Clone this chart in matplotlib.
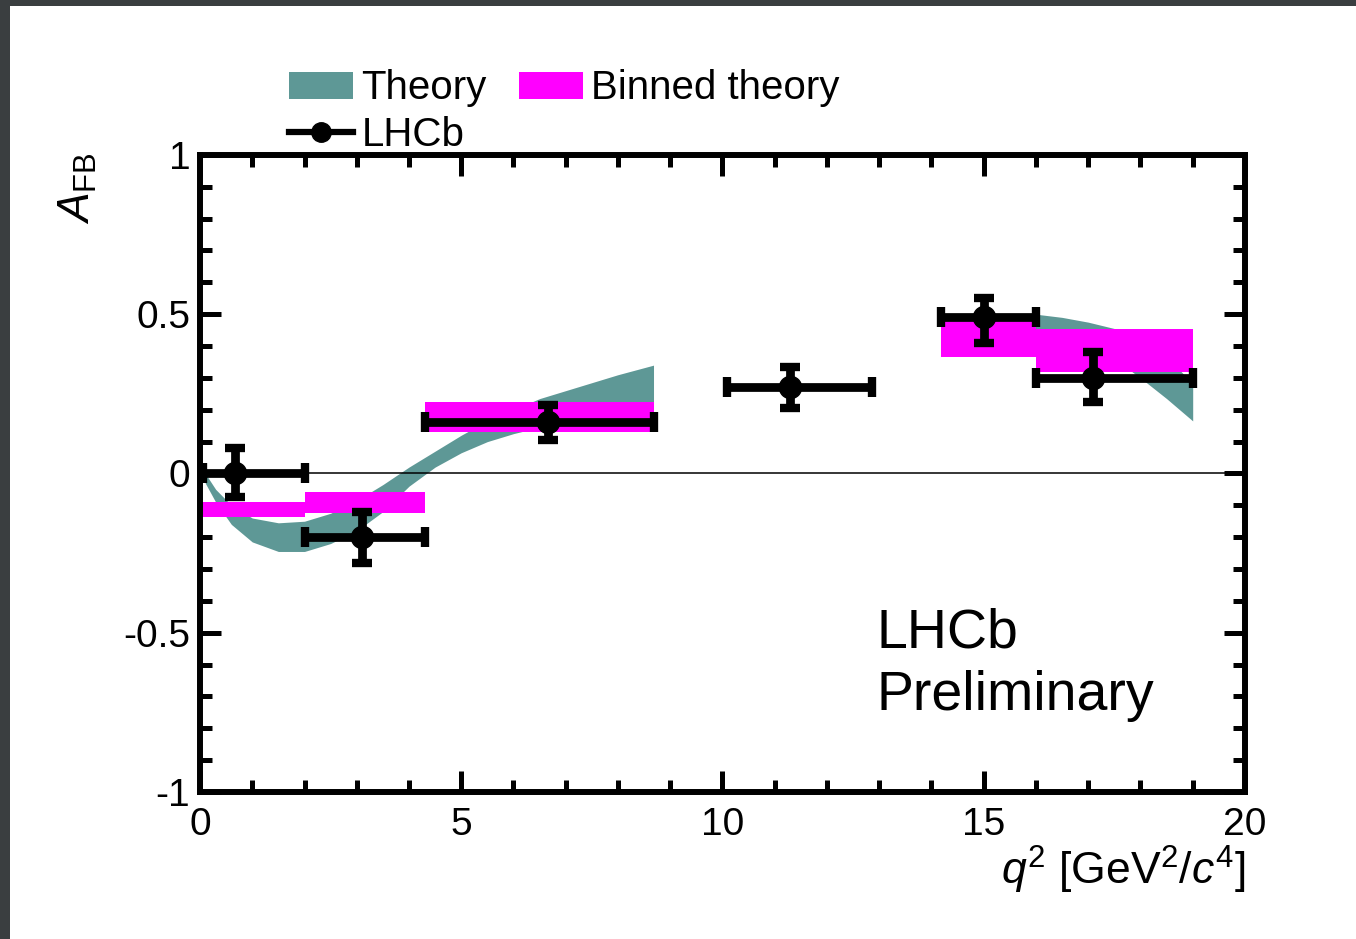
import matplotlib.pyplot as plt
from matplotlib.lines import Line2D
from matplotlib.patches import Patch, Rectangle
from matplotlib.ticker import MultipleLocator

plt.rcParams["font.family"] = ["Liberation Sans", "DejaVu Sans"]
plt.rcParams["mathtext.fontset"] = "custom"
plt.rcParams["mathtext.rm"] = "Liberation Sans"
plt.rcParams["mathtext.it"] = "Liberation Sans:italic"

# theory band, low q2 region
q_low = [0.1, 0.3, 0.6, 1.0, 1.5, 2.0, 2.5, 3.0, 3.5, 4.0, 4.5, 5.0, 5.5, 6.0, 6.5, 7.0, 7.5, 8.0, 8.68]
up_low = [0.0, -0.05, -0.1, -0.14, -0.155, -0.15, -0.125, -0.085, -0.035, 0.02, 0.07, 0.12, 0.165, 0.2, 0.235, 0.26, 0.285, 0.31, 0.34]
dn_low = [-0.03, -0.09, -0.16, -0.215, -0.245, -0.245, -0.22, -0.18, -0.12, -0.04, 0.02, 0.065, 0.1, 0.125, 0.145, 0.16, 0.175, 0.19, 0.2]

# theory band, high q2 region
q_high = [14.18, 15.0, 16.0, 16.5, 17.0, 17.5, 18.0, 18.5, 19.0]
up_high = [0.47, 0.49, 0.50, 0.49, 0.475, 0.455, 0.42, 0.37, 0.28]
dn_high = [0.40, 0.42, 0.42, 0.41, 0.39, 0.36, 0.30, 0.235, 0.165]

# binned theory
bin_lo_edge = [0.05, 2.0, 4.3, 14.18, 16.0]
bin_hi_edge = [2.0, 4.3, 8.68, 16.0, 19.0]
bin_lo = [-0.138, -0.124, 0.129, 0.367, 0.317]
bin_hi = [-0.091, -0.057, 0.224, 0.50, 0.455]

# LHCb data
x_data = [0.67, 3.1, 6.66, 11.3, 15.0, 17.1]
x_lo = [0.05, 2.0, 4.3, 10.09, 14.18, 16.0]
x_hi = [2.0, 4.3, 8.68, 12.86, 16.0, 19.0]
y_data = [0.0, -0.20, 0.16, 0.27, 0.49, 0.30]
y_err_dn = [0.075, 0.08, 0.055, 0.065, 0.08, 0.075]
y_err_up = [0.08, 0.08, 0.055, 0.065, 0.06, 0.08]

teal = "#5e9896"
magenta = "#ff00ff"

fig = plt.figure(figsize=(13.56, 9.39), dpi=100, facecolor="#3a3e40")
fig.patches.append(Rectangle((10 / 1356, 0), 1, 1 - 6 / 939, transform=fig.transFigure,
                             facecolor="white", edgecolor="none", zorder=-5))
ax = fig.add_axes([0.1475, 0.1566, 0.7706, 0.6784])
ax.set_facecolor("white")

ax.fill_between(q_low, dn_low, up_low, color=teal, lw=0, zorder=1)
ax.fill_between(q_high, dn_high, up_high, color=teal, lw=0, zorder=1)

widths = [h - l for l, h in zip(bin_lo_edge, bin_hi_edge)]
heights = [h - l for l, h in zip(bin_lo, bin_hi)]
ax.bar(bin_lo_edge, heights, widths, bottom=bin_lo, align="edge", color=magenta, lw=0, zorder=2)

ax.axhline(0, color="black", lw=1.1, zorder=3)

xerr = [[x - l for x, l in zip(x_data, x_lo)], [h - x for x, h in zip(x_data, x_hi)]]
ax.errorbar(x_data, y_data, xerr=xerr, yerr=[y_err_dn, y_err_up], fmt="o", color="black",
            ms=16, elinewidth=6.3, capsize=7, capthick=6, zorder=4, clip_on=False)

ax.set_xlim(0, 20)
ax.set_ylim(-1, 1)
ax.xaxis.set_major_locator(MultipleLocator(5))
ax.xaxis.set_minor_locator(MultipleLocator(1))
ax.yaxis.set_major_locator(MultipleLocator(0.5))
ax.yaxis.set_minor_locator(MultipleLocator(0.1))
ax.set_xticks([0, 5, 10, 15, 20], ["0", "5", "10", "15", "20"])
ax.set_yticks([-1, -0.5, 0, 0.5, 1], ["-1", "-0.5", "0", "0.5", "1"])
ax.tick_params(which="both", direction="in", top=True, right=True, labelsize=28, width=3.6, pad=7)
ax.tick_params(axis="x", pad=11)
ax.tick_params(which="major", length=15)
ax.tick_params(which="minor", length=8.5)
for s in ax.spines.values():
    s.set_linewidth(4.3)

ax.set_xlabel(r"$q^{2}$ [GeV$^{2}$/$c^{4}$]", fontsize=32, ha="right")
ax.xaxis.set_label_coords(1.0, -0.082)
ax.set_ylabel(r"$A_{\rm FB}$", fontsize=32, ha="right")
ax.yaxis.set_label_coords(-0.097, 1.005)

ax.text(12.94, -0.42, "LHCb\nPreliminary", fontsize=40, ha="left", va="top", linespacing=1.27)

handles = [Patch(color=teal, lw=0),
           Line2D([], [], color="black", lw=4.5, marker="o", ms=14),
           Patch(color=magenta, lw=0)]
labels = ["Theory", "LHCb", "Binned theory"]
fig.legend(handles, labels, ncol=2, loc="upper left", bbox_to_anchor=(0.213, 0.926),
           frameon=False, fontsize=29, handlelength=1.6, handleheight=0.65,
           handletextpad=0.2, columnspacing=0.8, labelspacing=0.2, borderpad=0, borderaxespad=0)

fig.savefig("out.png", dpi=100, facecolor=fig.get_facecolor())
